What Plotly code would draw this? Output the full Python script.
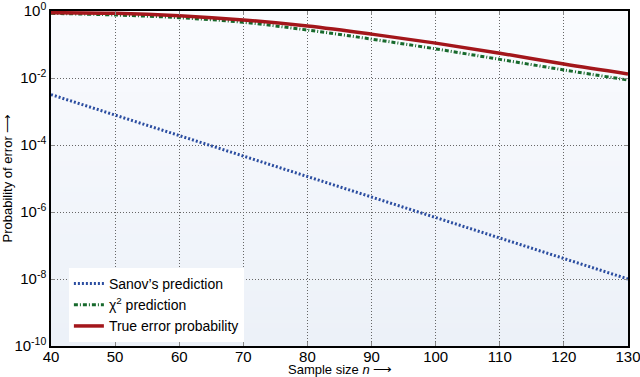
import base64
import struct
import zlib

import plotly.graph_objects as go

# sample sizes and the three error curves
n = [40, 50, 60, 70, 80, 90, 100, 110, 120, 130]
sanov = [3.2e-3, 7.8e-4, 1.9e-4, 4.7e-5, 1.15e-5, 2.8e-6, 6.8e-7, 1.65e-7, 4.1e-8, 1.0e-8]
chi2 = [0.85, 0.76, 0.63, 0.46, 0.27, 0.145, 0.074, 0.036, 0.0174, 0.0087]
true_err = [0.89, 0.85, 0.72, 0.54, 0.355, 0.204, 0.11, 0.055, 0.026, 0.0132]

y_tickvals = [1, 1e-2, 1e-4, 1e-6, 1e-8, 1e-10]
y_ticktext = ["10<sup>0</sup>", "10<sup>-2</sup>", "10<sup>-4</sup>",
              "10<sup>-6</sup>", "10<sup>-8</sup>", "10<sup>-10</sup>"]
x_tickvals = [40, 50, 60, 70, 80, 90, 100, 110, 120, 130]


def gradient_png(top, bottom, rows=64):
    """Tiny 1-px wide vertical gradient PNG as a data URI."""
    raw = b""
    for i in range(rows):
        t = i / (rows - 1)
        px = bytes(round(a + (b - a) * t) for a, b in zip(top, bottom))
        raw += b"\x00" + px

    def chunk(tag, data):
        c = tag + data
        return struct.pack(">I", len(data)) + c + struct.pack(">I", zlib.crc32(c) & 0xFFFFFFFF)

    png = b"\x89PNG\r\n\x1a\n"
    png += chunk(b"IHDR", struct.pack(">IIBBBBB", 1, rows, 8, 2, 0, 0, 0))
    png += chunk(b"IDAT", zlib.compress(raw))
    png += chunk(b"IEND", b"")
    return "data:image/png;base64," + base64.b64encode(png).decode()


fig = go.Figure()

fig.add_trace(go.Scatter(
    x=n, y=sanov, mode="lines", name="Sanov’s prediction",
    line=dict(color="#2b4da0", width=3, dash="2px,2px"),
))
fig.add_trace(go.Scatter(
    x=n, y=chi2, mode="lines", name="χ<sup>2</sup> prediction",
    line=dict(color="#17692c", width=3, dash="4px,2px,1px,2px", shape="spline"),
))
fig.add_trace(go.Scatter(
    x=n, y=true_err, mode="lines", name="True error probability",
    line=dict(color="#a3161b", width=3.5, shape="spline"),
))

axis_common = dict(
    showline=True, linecolor="black", linewidth=1.5, mirror="ticks",
    ticks="inside", ticklen=4, tickcolor="#888",
    showgrid=True, gridcolor="#666", griddash="1px,2px", gridwidth=1,
    zeroline=False, automargin=False, ticklabeloverflow="allow",
    tickfont=dict(size=15, color="black"),
)

fig.update_layout(
    width=640, height=377,
    margin=dict(l=51, r=12, t=11, b=31),
    paper_bgcolor="white",
    plot_bgcolor="rgba(0,0,0,0)",
    font=dict(family="Liberation Sans, Arial, sans-serif", color="black"),
    xaxis=dict(axis_common, range=[40, 130], tickvals=x_tickvals,
               ticklabelstandoff=-4),
    yaxis=dict(
        axis_common, type="log", range=[-10, 0],
        tickvals=y_tickvals, ticktext=y_ticktext,
    ),
    legend=dict(
        x=0.031, y=0.233, xanchor="left", yanchor="top",
        bgcolor="white", borderwidth=0,
        font=dict(size=14), tracegroupgap=0,
        itemwidth=30,
    ),
    images=[dict(
        source=gradient_png((250, 251, 254), (236, 241, 248)),
        xref="paper", yref="paper", x=0, y=1, sizex=1, sizey=1,
        sizing="stretch", xanchor="left", yanchor="top", layer="below",
    )],
    annotations=[
        dict(text="Sample size <i>n</i> ⟶", xref="paper", yref="paper",
             x=0.5, y=0, yanchor="middle", yshift=-23, showarrow=False,
             font=dict(size=13)),
        dict(text="Probability of error ⟶", xref="paper", yref="paper",
             x=0, y=0.5, xanchor="center", xshift=-44, textangle=-90,
             showarrow=False, font=dict(size=13)),
    ],
)

# drop the default 8px page margin so the figure sits at the window origin
fig.write_html(
    "out.html",
    config={"displayModeBar": False},
    post_script="document.body.style.margin='0';",
)
